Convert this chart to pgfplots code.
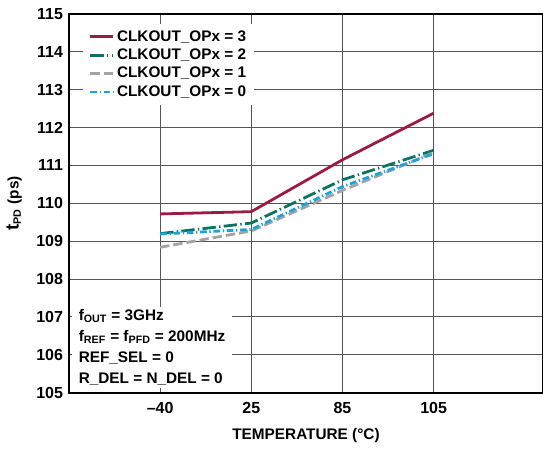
\documentclass[border=0pt]{standalone}
\usepackage{pgfplots}
\pgfplotsset{compat=1.18}
\usepackage{fontspec}
\setmainfont{Liberation Sans}
\usetikzlibrary{calc}
\definecolor{cred}{HTML}{9B1B45}
\definecolor{cteal}{HTML}{0E7262}
\definecolor{cgray}{HTML}{A3A3A3}
\definecolor{cblue}{HTML}{1CA3DC}
\definecolor{cgrid}{HTML}{555555}
\begin{document}
\begin{tikzpicture}
\begin{axis}[
  scale only axis,
  width=355.5pt, height=284pt,
  xmin=0, xmax=5.2, ymin=105, ymax=115,
  xtick={1,2,3,4}, xticklabels={--40,25,85,105},
  ytick={105,106,...,115},
  major tick length=0pt,
  grid=major,
  major grid style={cgrid, line width=0.8pt},
  axis line style={black, line width=1.4pt},
  tick label style={font=\bfseries\fontsize{12pt}{14pt}\selectfont},
  /pgf/number format/assume math mode=true,
  xticklabel style={yshift=-4pt},
  yticklabel style={xshift=-1pt},
  xlabel={\bfseries TEMPERATURE (°C)},
  ylabel={\bfseries {\fontsize{14pt}{14pt}\selectfont t}\textsubscript{PD} (ps)},
  label style={font=\bfseries\fontsize{11.5pt}{13pt}\selectfont},
  xlabel style={yshift=-4pt},
  ylabel style={yshift=4pt},
  legend cell align=left,
  legend style={at={(0.03,0.975)}, anchor=north west, draw=none, fill=white,
    font=\bfseries\fontsize{11.5pt}{13pt}\selectfont, row sep=0.3pt,
    inner xsep=4pt, inner ysep=3pt},
  legend image code/.code={\draw[#1] (0cm,0cm) -- (0.6cm,0cm);},
]
\addplot[cred, line width=2.1pt] coordinates {(1,109.72) (2,109.78) (3,111.15) (4,112.38)};
\addlegendentry{CLKOUT\_OPx = 3}
\addplot[cteal, line width=2.1pt, dash pattern=on 10pt off 2.5pt on 1pt off 2.5pt] coordinates {(1,109.2) (2,109.48) (3,110.62) (4,111.4)};
\addlegendentry{CLKOUT\_OPx = 2}
\addplot[cgray, line width=2.1pt, dash pattern=on 7pt off 3pt] coordinates {(1,108.84) (2,109.27) (3,110.34) (4,111.34)};
\addlegendentry{CLKOUT\_OPx = 1}
\addplot[cblue, line width=2.1pt, dash pattern=on 5pt off 2pt on 1pt off 2pt] coordinates {(1,109.19) (2,109.31) (3,110.44) (4,111.31)};
\addlegendentry{CLKOUT\_OPx = 0}
\node[anchor=south west, fill=white, inner xsep=5pt, inner ysep=2pt, align=left,
  font=\bfseries\fontsize{11.5pt}{15.75pt}\selectfont] at (rel axis cs:0.006,0.012)
  {f\textsubscript{OUT} = 3GHz\\
   f\textsubscript{REF} = f\textsubscript{PFD} = 200MHz\\
   REF\_SEL = 0\\
   R\_DEL = N\_DEL = 0};
\end{axis}
\pgfresetboundingbox
\path ($(current axis.south west)+(-51.75pt,-42pt)$) rectangle ($(current axis.north east)+(0pt,10.5pt)$);
\end{tikzpicture}
\end{document}
